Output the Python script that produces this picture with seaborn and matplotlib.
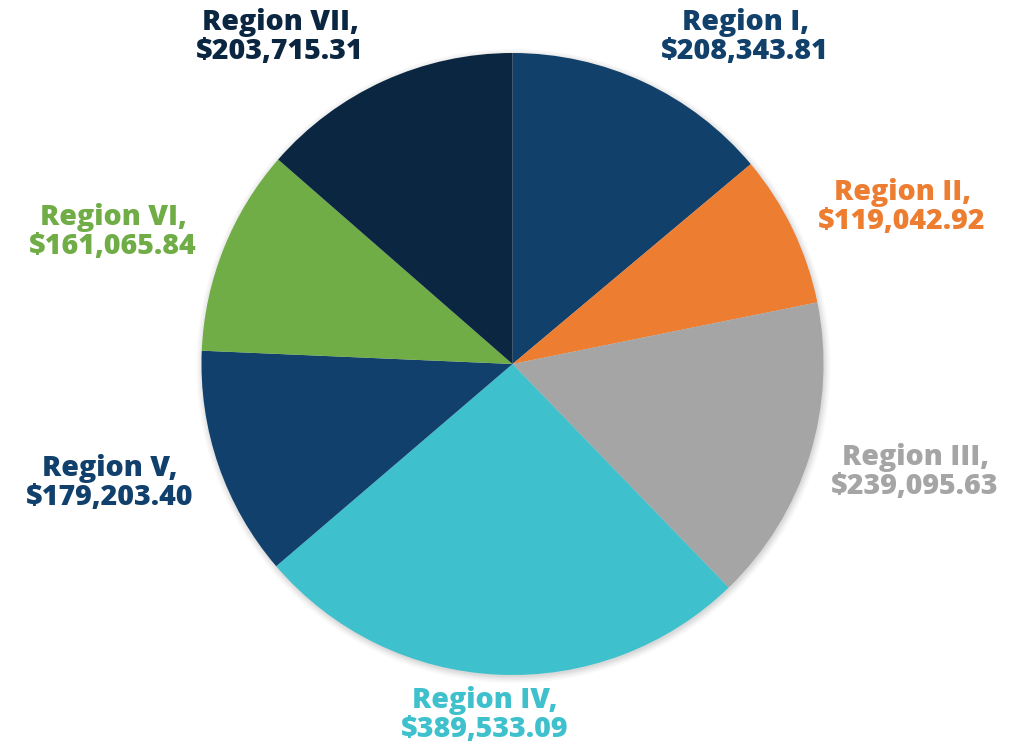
import matplotlib
matplotlib.use("Agg")
import matplotlib.pyplot as plt
import seaborn as sns
from matplotlib.patches import Circle

sns.set_theme(style="white")
plt.rcParams['font.family'] = ['Open Sans', 'DejaVu Sans']

regions = ["Region I", "Region II", "Region III", "Region IV", "Region V", "Region VI", "Region VII"]
values = [208343.81, 119042.92, 239095.63, 389533.09, 179203.40, 161065.84, 203715.31]
colors = ["#11406B", "#ED7D31", "#A5A5A5", "#3FC1CD", "#10406B", "#70AD47", "#0B2641"]

# label anchor positions in pixel space (x from left, y from top)
label_pos = [(745, 37), (902, 207), (915, 472), (485, 715), (110, 483), (113, 232), (280, 37)]

W, H = 1030, 747
fig = plt.figure(figsize=(W / 100, H / 100), dpi=100)
ax = fig.add_axes([0, 0, 1, 1])

cx, cy, r = 512.5, H - 364, 311

# soft shadow
for i, a in enumerate([0.025, 0.025, 0.03, 0.035, 0.04]):
    ax.add_patch(Circle((cx + 1, cy - 2), r + 6 - i * 1.5, color="black", alpha=a, lw=0, zorder=0))

ax.pie(values, colors=colors, startangle=90, counterclock=False,
       radius=r, center=(cx, cy), frame=True,
       wedgeprops=dict(linewidth=0, zorder=2))
ax.set_xlim(0, W)
ax.set_ylim(0, H)
ax.set_aspect("equal")
ax.axis("off")

for name, val, col, (lx, ly) in zip(regions, values, colors, label_pos):
    ax.text(lx, H - ly, f"{name},\n${val:,.2f}", ha="center", va="center",
            color=col, fontsize=20.5, fontweight=800, linespacing=1.0, zorder=5)

fig.savefig("out.png", dpi=100)
